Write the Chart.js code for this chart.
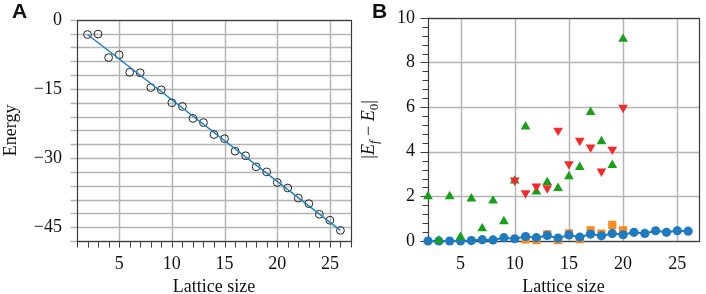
<!DOCTYPE html>
<html>
<head>
<meta charset="utf-8">
<script src="https://cdn.jsdelivr.net/npm/chart.js@4.4.1/dist/chart.umd.min.js"></script>
<style>
  body { margin: 0; background: #fff; }
  #wrap { position: relative; width: 706px; height: 294px; }
  canvas { position: absolute; top: 0; }
</style>
</head>
<body>
<div id="wrap">
  <canvas id="chartA" width="360" height="294" style="left:0"></canvas>
  <canvas id="chartB" width="346" height="294" style="left:360px"></canvas>
</div>
<script>
// panel A: ground state energy vs lattice size
const latticeSizes = [2, 3, 4, 5, 6, 7, 8, 9, 10, 11, 12, 13, 14, 15, 16, 17, 18, 19, 20, 21, 22, 23, 24, 25, 26];
const energy = [-3.2, -3.1, -8.2, -7.6, -11.4, -11.5, -14.7, -15.2, -18.0, -18.8, -21.4, -22.3, -24.9,
  -25.8, -28.5, -29.5, -31.9, -33.0, -35.3, -36.5, -38.7, -39.9, -42.2, -43.5, -45.7];
const fitSizes = [2, 26];
const fitEnergy = [-3.2, -45.7];

// panel B: |E_f - E_0|
const blueGap = [0, 0, 0, 0, 0.02, 0.06, 0.05, 0.15, 0.1, 0.2, 0.15, 0.25, 0.13, 0.27, 0.17, 0.31,
  0.23, 0.34, 0.28, 0.39, 0.34, 0.46, 0.39, 0.46, 0.44];
const orangeSizes = [11, 12, 13, 14, 15, 16, 17, 18, 19, 20];
const orangeGap = [0.07, 0.04, 0.3, 0.04, 0.34, 0.08, 0.48, 0.33, 0.72, 0.48];
const greenSizes = [2, 3, 4, 5, 6, 7, 8, 9, 10, 11, 12, 13, 14, 15, 16, 17, 18, 19, 20];
const greenGap = [2.0, 0.02, 2.0, 0.18, 1.9, 0.56, 1.8, 0.88, 2.7, 5.12, 2.21, 2.63, 2.37, 2.89, 3.31,
  5.77, 4.46, 3.4, 9.05];
const redSizes = [10, 11, 12, 13, 14, 15, 16, 17, 18, 19, 20];
const redGap = [2.72, 2.15, 2.45, 2.37, 4.95, 3.45, 4.5, 4.2, 3.12, 4.1, 5.98];

const serif = "'Liberation Serif', 'DejaVu Serif', serif";
const tickFont = { family: serif, size: 18 };
const gridGray = '#b4b4b4';
const axisDark = '#3a3a3a';
const clear = 'rgba(0,0,0,0)';

function pts(xs, ys) {
  return xs.map((x, i) => ({ x: x, y: ys[i] }));
}

function minus(v) {
  return String(v).replace('-', '\u2212');
}

function multipleOf(v, step) {
  const r = v / step;
  return Math.abs(r - Math.round(r)) < 1e-6;
}

// grid, tick marks and box, drawn from the chart's own scales
const framePlugin = {
  id: 'frame',
  beforeDatasetsDraw(chart, args, o) {
    const a = chart.chartArea;
    const ctx = chart.ctx;
    const xs = chart.scales.x;
    const ys = chart.scales.y;
    const L = Math.round(a.left) + 0.5, R = Math.round(a.right) + 0.5;
    const T = Math.round(a.top) + 0.5, B = Math.round(a.bottom) + 0.5;
    ctx.save();
    const line = (x1, y1, x2, y2, c, w) => {
      ctx.strokeStyle = c;
      ctx.lineWidth = w;
      ctx.beginPath(); ctx.moveTo(x1, y1); ctx.lineTo(x2, y2); ctx.stroke();
    };
    xs.ticks.forEach(t => {
      const px = Math.round(xs.getPixelForValue(t.value)) + 0.5;
      if (multipleOf(t.value, o.xGrid)) line(px, T, px, B, gridGray, 1.5);
      if (o.xTicks) line(px, B, px, B + 6, axisDark, 1);
    });
    ys.ticks.forEach(t => {
      const py = Math.round(ys.getPixelForValue(t.value)) + 0.5;
      const major = multipleOf(t.value, o.yGrid);
      if (major) line(L, py, R, py, gridGray, 1.5);
      const len = o.yTickDark ? (multipleOf(t.value, o.yLabel) ? 8 : 6) : 7;
      line(L - len, py, L, py, o.yTickDark ? axisDark : gridGray, o.yTickDark ? 1 : 1.5);
    });
    ctx.strokeStyle = axisDark;
    ctx.lineWidth = 1.2;
    ctx.strokeRect(L, T, R - L, B - T);
    ctx.restore();
  }
};

// axis titles and panel letters
const textPlugin = {
  id: 'texts',
  afterDraw(chart, args, opts) {
    const ctx = chart.ctx;
    const a = chart.chartArea;
    ctx.save();
    ctx.fillStyle = '#111';
    ctx.font = 'bold 21px "Liberation Sans", Arial, sans-serif';
    ctx.textBaseline = 'alphabetic';
    ctx.textAlign = 'left';
    ctx.fillText(opts.letter, opts.letterX, 18);

    ctx.font = '18px ' + serif;
    ctx.textAlign = 'center';
    ctx.fillText('Lattice size', (a.left + a.right) / 2, 292);

    ctx.translate(opts.yTitleX, (a.top + a.bottom) / 2);
    ctx.rotate(-Math.PI / 2);
    if (opts.gapTitle) {
      const parts = [
        { t: '|', f: '18px ' + serif, dy: 0 },
        { t: 'E', f: 'italic 18px ' + serif, dy: 0 },
        { t: 'f', f: 'italic 13px ' + serif, dy: 4 },
        { t: ' \u2212 ', f: '18px ' + serif, dy: 0 },
        { t: 'E', f: 'italic 18px ' + serif, dy: 0 },
        { t: '0', f: '13px ' + serif, dy: 4 },
        { t: '|', f: '18px ' + serif, dy: 0 }
      ];
      let w = 0;
      parts.forEach(p => { ctx.font = p.f; p.w = ctx.measureText(p.t).width; w += p.w; });
      let x = -w / 2;
      ctx.textAlign = 'left';
      parts.forEach(p => { ctx.font = p.f; ctx.fillText(p.t, x, p.dy); x += p.w; });
    } else {
      ctx.fillText('Energy', 0, 0);
    }
    ctx.restore();
  }
};

Chart.register(framePlugin, textPlugin);

const base = {
  responsive: false,
  animation: false,
  devicePixelRatio: 1,
  events: []
};

// library grid kept only for spacing; visible lines come from framePlugin
const hiddenGrid = { color: clear, tickColor: clear, tickLength: 6 };

new Chart(document.getElementById('chartA'), {
  type: 'scatter',
  data: {
    datasets: [
      {
        data: pts(fitSizes, fitEnergy),
        showLine: true,
        borderColor: '#1781c0',
        borderWidth: 1.4,
        pointRadius: 0,
        order: 0
      },
      {
        data: pts(latticeSizes, energy),
        pointStyle: 'circle',
        pointRadius: 3.9,
        borderColor: '#222',
        borderWidth: 1,
        backgroundColor: clear,
        order: 1
      }
    ]
  },
  options: {
    ...base,
    layout: { padding: { left: 0, right: 9, top: 16, bottom: 0 } },
    plugins: {
      legend: { display: false }, tooltip: { enabled: false },
      frame: { xGrid: 5, xTicks: true, yGrid: 3, yLabel: 15, yTickDark: false },
      texts: { letter: 'A', letterX: 12, yTitleX: 16 }
    },
    scales: {
      x: {
        type: 'linear', min: 1, max: 27,
        afterFit: s => { s.height = 53; },
        border: { display: false },
        grid: { ...hiddenGrid, tickLength: 5 },
        ticks: {
          stepSize: 1, autoSkip: false, maxRotation: 0, padding: 7,
          font: tickFont, color: '#111',
          callback: v => v % 5 === 0 ? v : ''
        }
      },
      y: {
        type: 'linear', min: -48, max: 0,
        afterFit: s => { s.width = 77; },
        border: { display: false },
        grid: hiddenGrid,
        ticks: {
          stepSize: 3, autoSkip: false, padding: 9,
          font: tickFont, color: '#111',
          callback: v => v % 15 === 0 ? minus(v) : ''
        }
      }
    }
  }
});

const blue = '#1f7bbf';
new Chart(document.getElementById('chartB'), {
  type: 'scatter',
  data: {
    datasets: [
      {
        data: pts(redSizes, redGap),
        pointStyle: 'triangle', rotation: 180,
        pointRadius: 5.6, backgroundColor: '#f52a2a', borderWidth: 0,
        clip: false, order: 0
      },
      {
        data: pts(greenSizes, greenGap),
        pointStyle: 'triangle',
        pointRadius: 5.6, backgroundColor: '#16a016', borderWidth: 0,
        clip: false, order: 1
      },
      {
        data: pts(latticeSizes, blueGap),
        showLine: true, borderColor: blue, borderWidth: 2,
        pointStyle: 'circle', pointRadius: 4.6,
        pointBackgroundColor: blue, pointBorderWidth: 0,
        clip: false, order: 2
      },
      {
        data: pts(orangeSizes, orangeGap),
        pointStyle: 'rect',
        pointRadius: 5.8, backgroundColor: '#ff8a1c', borderWidth: 0,
        clip: false, order: 3
      }
    ]
  },
  options: {
    ...base,
    layout: { padding: { left: 0, right: 3, top: 16, bottom: 0 } },
    plugins: {
      legend: { display: false }, tooltip: { enabled: false },
      frame: { xGrid: 5, xTicks: false, yGrid: 2, yLabel: 2, yTickDark: true },
      texts: { letter: 'B', letterX: 12, yTitleX: 14, gapTitle: true }
    },
    scales: {
      x: {
        type: 'linear', min: 2, max: 27,
        afterFit: s => { s.height = 53; },
        border: { display: false },
        grid: { ...hiddenGrid, tickLength: 5 },
        ticks: {
          stepSize: 1, autoSkip: false, maxRotation: 0, padding: 7,
          font: tickFont, color: '#111',
          callback: v => v % 5 === 0 ? v : ''
        }
      },
      y: {
        type: 'linear', min: 0, max: 10,
        afterFit: s => { s.width = 68; },
        border: { display: false },
        grid: hiddenGrid,
        ticks: {
          stepSize: 0.4, autoSkip: false, padding: 7,
          font: tickFont, color: '#111',
          callback: v => multipleOf(v, 2) ? v : ''
        }
      }
    }
  }
});
</script>
</body>
</html>
